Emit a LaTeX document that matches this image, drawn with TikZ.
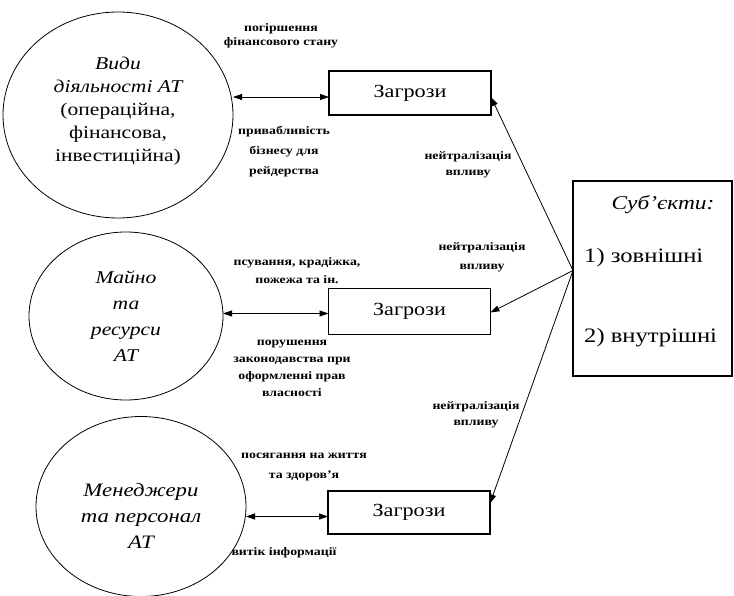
\documentclass[tikz,border=0pt]{standalone}
\usepackage{fontspec}
\setmainfont{Liberation Serif}[FakeStretch=1.2]
\usetikzlibrary{arrows.meta,shapes.geometric}
\begin{document}
\begin{tikzpicture}[x=1pt,y=-1pt,
  ell/.style={draw, ellipse, inner sep=0pt, outer sep=0pt, line width=0.8pt},
  ctxt/.style={align=center, inner sep=0pt},
  box/.style={draw, rectangle, minimum width=162pt, minimum height=44pt, inner sep=0pt, outer sep=0pt, line width=1.1pt, font=\fontsize{18.5}{22}\selectfont},
  lab/.style={align=center, inner sep=1pt, font=\bfseries\fontsize{11.5}{#1}\selectfont},
  lab/.default=18,
  subtxt/.style={inner sep=0pt, font=\fontsize{20.5}{24}\selectfont},
  biarr/.style={{Triangle[length=9pt,width=6pt]}-{Triangle[length=9pt,width=6pt]}, line width=0.8pt},
  arr/.style={-{Triangle[length=9pt,width=6pt]}, line width=0.8pt}]
\fill[white] (0,0) rectangle (734,596);
\useasboundingbox (0,0) rectangle (734,596);

% circles
\node[ell, minimum width=230pt, minimum height=206pt] (c1) at (118,115) {};
\node[ctxt, font=\fontsize{18}{23}\selectfont] (t1) at (118,111)
  {{\itshape Види}\\ {\itshape діяльності АТ}\\ (операційна,\\ фінансова,\\ інвестиційна)};
\node[ell, minimum width=194pt, minimum height=168pt] (c2) at (126,316) {};
\node[ctxt, font=\fontsize{18}{26}\selectfont\itshape] (t2) at (126,316)
  {Майно\\ та\\ ресурси\\ АТ};
\node[ell, minimum width=210pt, minimum height=180pt] (c3) at (141,506.5) {};
\node[ctxt, font=\fontsize{19}{26}\selectfont\itshape] (t3) at (141,516)
  {Менеджери\\ та персонал\\ АТ};

% threat boxes
\node[box] (b1) at (410,93) {Загрози};
\node[box, minimum height=46pt] (b2) at (409.5,311.5) {Загрози};
\node[box, minimum height=43pt] (b3) at (409,512.5) {Загрози};

% subjects
\node[draw, rectangle, minimum width=159pt, minimum height=195pt, line width=1.1pt, inner sep=0pt, outer sep=0pt] (s) at (652.5,278.5) {};
\node[subtxt, font=\fontsize{19.5}{22}\selectfont\itshape] (s1) at (663,205) {Суб’єкти:};
\node[subtxt, anchor=west] (s2) at (584,258) {1) зовнішні};
\node[subtxt, anchor=west] (s3) at (584,338) {2) внутрішні};

% labels
\node[lab=14] (l1) at (281,36) {погіршення\\ фінансового стану};
\node[lab=20] (l2) at (284,152) {привабливість\\ бізнесу для\\ рейдерства};
\node[lab=16] (n1) at (468,165) {нейтралізація\\ впливу};
\node[lab=19] (n2) at (482,257) {нейтралізація\\ впливу};
\node[lab=18] (l3) at (297,271) {псування, крадіжка,\\ пожежа та ін.};
\node[lab=17] (l4) at (292,368) {порушення\\ законодавства при\\ оформленні прав\\ власності};
\node[lab=16] (n3) at (476,415) {нейтралізація\\ впливу};
\node[lab=20] (l5) at (304,467) {посягання на життя\\ та здоров'я};
\node[lab] (l6) at (284,553) {витік інформації};

% two-headed connectors
\coordinate (p1) at ([yshift=-4pt]b1.west);
\coordinate (p2) at ([yshift=-2pt]b2.west);
\coordinate (p3) at ([yshift=-4pt]b3.west);
\draw[biarr] (p1 -| c1.east) -- (p1);
\draw[biarr] (p2 -| c2.east) -- (p2);
\draw[biarr] (p3 -| c3.east) -- (p3);

% arrows from subjects
\coordinate (hub) at ([yshift=8pt]s.west);
\draw[arr] (hub) -- ([yshift=-4pt]b1.east);
\draw[arr] (hub) -- ([yshift=-1pt]b2.east);
\draw[arr] (hub) -- ([yshift=9pt]b3.east);
\end{tikzpicture}
\end{document}
